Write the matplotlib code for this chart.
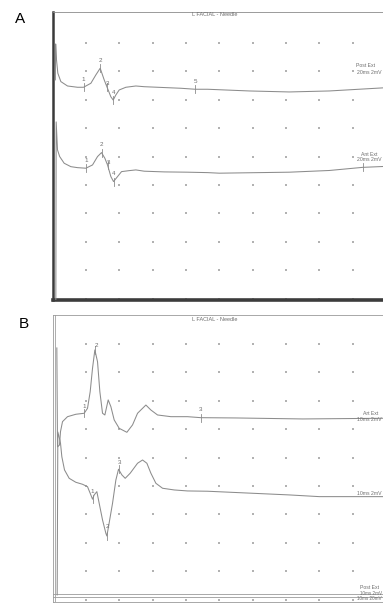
import numpy as np
import matplotlib
matplotlib.use('Agg')
import matplotlib.pyplot as plt

plt.rcParams['font.family'] = ['Liberation Sans', 'DejaVu Sans']

# ---------------- DATA ----------------
title_text = "L FACIAL - Needle"

# Panel A (20 ms/div, 2 mV/div); amplitudes in mV relative to each trace's baseline
a_post_t = [1.7, 1.9, 2.4, 3.2, 5.0, 9.0, 15.0, 18.6, 23.0, 26.0, 28.6, 31.0, 32.6, 35.0,
            36.4, 38.0, 40.0, 44.0, 50.0, 55.0, 63.0, 77.0, 85.6, 93.0, 118.0, 142.0, 166.0, 200.0]
a_post_v = [0.57, 3.10, 1.98, 1.04, 0.45, 0.14, 0.05, 0.05, 0.33, 0.92, 1.39, 0.57, 0.09, -0.62,
            -0.85, -0.49, -0.14, 0.05, 0.14, 0.09, 0.05, -0.02, -0.09, -0.09, -0.21, -0.28, -0.21, 0.02]
a_post_mk_t = [18.6, 28.6, 32.6, 36.4, 85.6]
a_post_mk_v = [0.05, 1.39, 0.09, -0.85, -0.09]
a_post_mk_lab = ['1', '2', '3', '4', '5']

a_ant_t = [2.0, 2.2, 3.0, 4.3, 7.0, 11.0, 15.0, 20.0, 24.0, 27.0, 29.4, 31.4, 33.0, 35.0, 36.6,
           39.0, 41.4, 46.0, 50.0, 55.0, 67.0, 81.0, 93.0, 100.0, 142.0, 166.0, 186.0, 200.0]
a_ant_v = [-9.16, 3.38, 1.41, 0.94, 0.47, 0.23, 0.16, 0.12, 0.35, 0.94, 1.22, 0.82, 0.35, -0.47, -0.82,
           -0.47, -0.12, -0.05, 0.00, -0.09, -0.14, -0.16, -0.19, -0.23, -0.16, -0.04, 0.18, 0.25]
a_ant_mk_t = [20.0, 29.4, 33.0, 36.6, 186.0]
a_ant_mk_v = [0.12, 1.22, 0.35, -0.82, 0.18]
a_ant_mk_lab = ['1', '2', '3', '4', '']

# Panel B (10 ms/div, 2 mV/div)
b_ant_t = [1.3, 1.5, 2.1, 2.4, 3.0, 4.5, 7.0, 9.5, 10.5, 11.3, 12.0, 12.7, 13.5, 14.2, 15.0, 15.7,
           16.7, 17.5, 18.5, 20.0, 22.3, 24.0, 25.5, 28.0, 29.5, 31.5, 35.5, 40.5, 44.5, 55.0, 75.0, 100.0]
b_ant_v = [4.86, -2.11, -1.97, -1.03, -0.33, 0.02, 0.19, 0.26, 0.61, 1.78, 3.43, 4.72, 3.89, 1.78, 0.26, 0.14,
           1.20, 0.73, -0.21, -0.80, -1.08, -0.56, 0.26, 0.84, 0.49, 0.14, 0.02, 0.02, -0.05, -0.07, -0.14, -0.09]
b_ant_mk_t = [9.5, 12.7, 44.5]
b_ant_mk_v = [0.26, 4.72, -0.05]
b_ant_mk_lab = ['1', '2', '3']

b_sec_t = [1.4, 1.6, 2.2, 2.4, 2.8, 3.6, 5.0, 7.0, 9.0, 10.5, 11.5, 12.0, 12.5, 13.3, 14.0, 15.0, 16.0,
           16.3, 16.8, 18.0, 19.0, 19.8, 20.8, 21.8, 23.3, 25.5, 27.0, 28.3, 29.5, 31.0, 33.0, 36.5,
           40.5, 46.5, 71.0, 80.0, 100.0]
b_sec_v = [-7.32, 4.15, 3.59, 3.36, 2.41, 1.48, 0.89, 0.61, 0.47, 0.30, -0.28, -0.58, -0.28, -0.05, -0.87,
           -2.04, -2.98, -3.17, -2.51, -0.87, 0.77, 1.53, 1.13, 0.89, 1.25, 1.95, 2.18, 1.95, 1.25, 0.54,
           0.19, 0.07, 0.00, -0.02, -0.28, -0.40, -0.40]
b_sec_mk_t = [12.0, 16.3, 19.8]
b_sec_mk_v = [-0.58, -3.17, 1.53]
b_sec_mk_lab = ['1', '2', '3']

b_bottom_levels = [0.39, 0.20]   # collapsed traces at the bottom of panel B (mV)

# ---------------- LAYOUT / STYLE ----------------
W, H = 383, 603
fig = plt.figure(figsize=(W / 100, H / 100), dpi=100)
fig.patch.set_facecolor('white')

PX_MV = 2.0 / 28.4  # mV per pixel
TR = '#8c8c8c'
TX = '#6e6e6e'

def make_ax(x0, x1, ytop, ybot):
    return fig.add_axes([x0 / W, 1 - ybot / H, (x1 - x0) / W, (ybot - ytop) / H])

axA = make_ax(52.5, 386, 12, 300)
axB = make_ax(52.5, 386, 315, 602)

axA.set_xlim(0, 200)
axA.set_ylim(-0.1, 20.18)
axB.set_xlim(0, 100)
axB.set_ylim(-0.17, 20.04)

for ax in (axA, axB):
    ax.set_xticks([])
    ax.set_yticks([])
    ax.set_facecolor('white')
    for s in ax.spines.values():
        s.set_color('#9a9a9a')
        s.set_linewidth(0.6)

axA.spines['left'].set_color('#3a3a3a')
axA.spines['left'].set_linewidth(1.8)
axA.spines['bottom'].set_color('#3c3c3c')
axA.spines['bottom'].set_linewidth(2.6)
axA.spines['top'].set_color('#8a8a8a')

# dotted grid
for ax, step in ((axA, 20), (axB, 10)):
    gx, gy = np.meshgrid(np.arange(1, 10) * step, np.arange(0, 10) * 2.0)
    ax.scatter(gx.ravel(), gy.ravel(), s=0.9, marker='s', color='#b2b2b2', linewidths=0, zorder=1)

def draw_trace(ax, t, v, base, mk_t, mk_v, mk_lab, label_dy=None, label_dx=None, xscale=1.0):
    ax.plot(t, np.array(v) + base, color=TR, lw=0.75, zorder=3, clip_on=True)
    for i, (mt, mv, lab) in enumerate(zip(mk_t, mk_v, mk_lab)):
        y = mv + base
        ax.plot([mt, mt], [y - 4 * PX_MV, y + 4 * PX_MV], color=TR, lw=0.6, zorder=3)
        if lab:
            dy = (label_dy[i] if label_dy else 8) * PX_MV
            dx = (label_dx[i] if label_dx else 0) * xscale
            ax.text(mt + dx, y + dy, lab, fontsize=4.5, color=TX, ha='center', va='center', zorder=4)

# Panel A traces
draw_trace(axA, a_post_t, a_post_v, 14.83, a_post_mk_t, a_post_mk_v, a_post_mk_lab,
           label_dy=[8, 8, 3, 8, 8], label_dx=[0, 0, 1.0, 0, 0], xscale=0.6)
draw_trace(axA, a_ant_t, a_ant_v, 9.06, a_ant_mk_t, a_ant_mk_v, a_ant_mk_lab,
           label_dy=[8, 8.5, 2.5, 8, 0], label_dx=[0, 0, 1.0, 0, 0], xscale=0.6)

# Panel B traces
draw_trace(axB, b_ant_t, b_ant_v, 12.86, b_ant_mk_t, b_ant_mk_v, b_ant_mk_lab,
           label_dy=[7, 4.5, 8], label_dx=[0, 2, 0], xscale=0.3)
draw_trace(axB, b_sec_t, b_sec_v, 7.65, b_sec_mk_t, b_sec_mk_v, b_sec_mk_lab,
           label_dy=[7.5, 9, 7], label_dx=[0, 1, 0.5], xscale=0.3)
for lv in b_bottom_levels:
    axB.axhline(lv, color='#9a9a9a', lw=0.6, zorder=2)
# second frame line on the left of panel B
axB.axvline(0.75, color='#a0a0a0', lw=0.6, zorder=2)

# titles inside the recordings
axA.text(97.2, 19.97, title_text, fontsize=4.0, color=TX, ha='center', va='center')
axB.text(48.6, 19.69, title_text, fontsize=4.0, color=TX, ha='center', va='center')

# right-hand trace labels
fsr = 3.7
xr_A = (381.5 - 52.5) * 0.6   # right edge of the picture in panel A data units
xr_B = (381.5 - 52.5) * 0.3
axA.text(181.8, 16.38, "Post Ext", fontsize=fsr, color=TX, ha='left', va='center')
axA.text(xr_A, 15.89, "20ms 2mV", fontsize=fsr, color=TX, ha='right', va='center')
axA.text(184.8, 10.18, "Ant Ext", fontsize=fsr, color=TX, ha='left', va='center')
axA.text(xr_A, 9.76, "20ms 2mV", fontsize=fsr, color=TX, ha='right', va='center')

axB.text(93.0, 13.07, "Art Ext", fontsize=fsr, color=TX, ha='left', va='center')
axB.text(xr_B, 12.65, "10ms 2mV", fontsize=fsr, color=TX, ha='right', va='center')
axB.text(xr_B, 7.44, "10ms 2mV", fontsize=fsr, color=TX, ha='right', va='center')
axB.text(92.1, 0.86, "Post Ext", fontsize=fsr, color=TX, ha='left', va='center')
axB.text(xr_B, 0.40, "10ms 2mV", fontsize=3.3, color=TX, ha='right', va='center')
axB.text(xr_B, 0.06, "10ms 20mV", fontsize=3.3, color=TX, ha='right', va='center')

# panel letters
fig.text(20 / W, 1 - 19 / H, "A", fontsize=11, color='black', ha='center', va='center')
fig.text(24 / W, 1 - 324 / H, "B", fontsize=11, color='black', ha='center', va='center')

fig.savefig('out.png', dpi=100, facecolor='white')
